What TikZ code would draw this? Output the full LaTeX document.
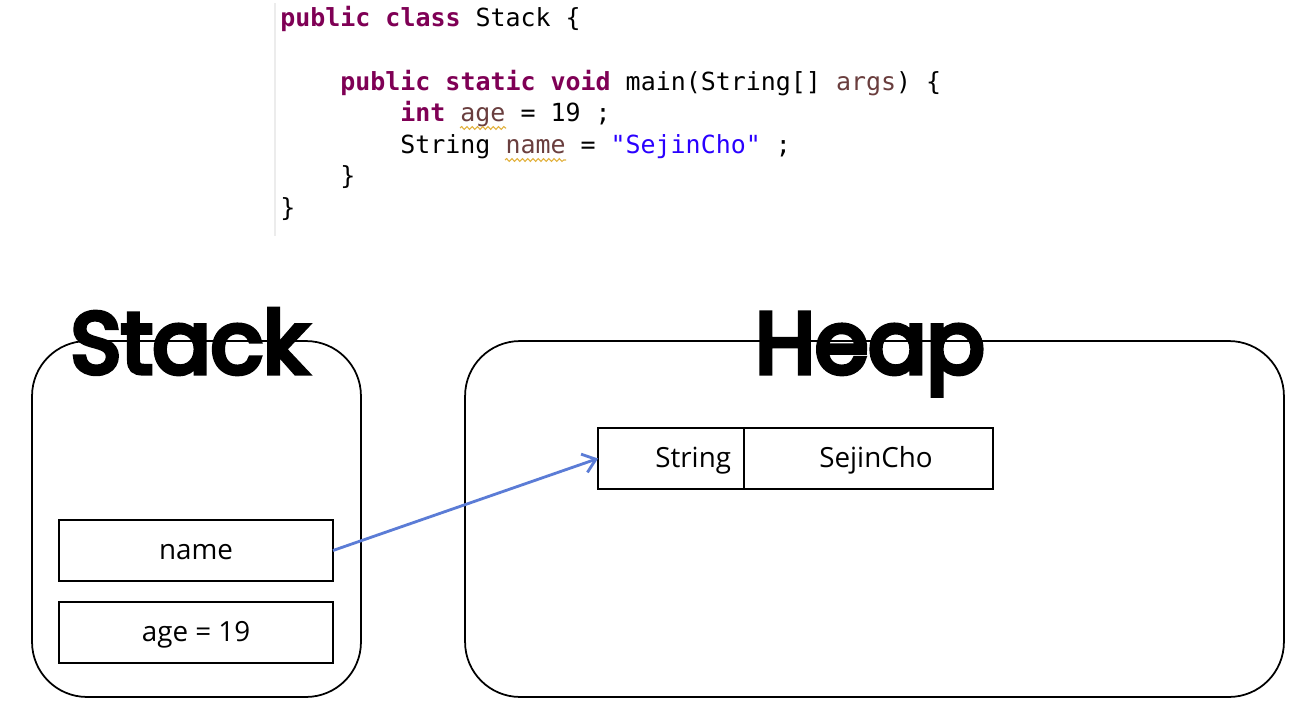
\documentclass[tikz,border=0pt]{standalone}
\usepackage{fontspec}
\setmainfont{Open Sans}
\newfontfamily\codefont{DejaVu Sans Mono}
\newfontfamily\titlefont[FakeBold=6]{Poppins}
\usetikzlibrary{arrows.meta,decorations.pathmorphing}
\definecolor{kw}{HTML}{7F0055}
\definecolor{var}{HTML}{6A3E3E}
\definecolor{str}{HTML}{2A00FF}
\definecolor{arrowblue}{HTML}{5B7CD6}
\definecolor{squig}{HTML}{E2B13C}
\newcommand{\kw}[1]{\textcolor{kw}{\bfseries #1}}
\newcommand{\vr}[1]{\textcolor{var}{#1}}
\begin{document}
\begin{tikzpicture}[x=0.02cm,y=-0.02cm,
  codeline/.style={anchor=base west,inner sep=0,font=\codefont\fontsize{14.2}{17}\selectfont},
  memarea/.style={draw,line width=1pt,rounded corners=1.1cm,minimum width=#1,minimum height=7.12cm,inner sep=0,outer sep=0},
  cell/.style={draw,line width=0.9pt,minimum height=1.22cm,inner sep=0,outer sep=0,text height=12.8pt,text depth=2.5pt,font=\fontsize{15.8}{18}\selectfont},
  title/.style={anchor=base,inner sep=0,font=\titlefont\fontsize{49}{56}\selectfont},
  ref/.style={draw=arrowblue,line width=1.6pt,-{Straight Barb[length=7pt,width=11pt,line width=1.6pt]}},
  squiggle/.style={draw=squig,line width=0.6pt,decorate,decoration={snake,amplitude=0.8pt,segment length=3pt}}
]
\useasboundingbox (0,0) rectangle (1311,720);
\fill[white] (0,0) rectangle (1311,720);
% editor margin
\draw[gray!15,line width=0.6pt] (275,3) -- (275,236);
% code
\node[codeline] (c1) at (280,27) {\kw{public} \kw{class} Stack \{};
\node[codeline] (c2) at (340,90) {\kw{public} \kw{static} \kw{void} main(String[] \vr{args}) \{};
\node[codeline] (c3) at (400,121.5) {\kw{int} \vr{age} = 19 ;};
\node[codeline] (c4) at (400,153) {String \vr{name} = \textcolor{str}{"SejinCho"} ;};
\node[codeline] (c5) at (340,184.5) {\}};
\node[codeline] (c6) at (280,216) {\}};
\draw[squiggle] (460,128) -- (506,128);
\draw[squiggle] (505,160) -- (566,160);
% memory areas
\node[memarea=6.58cm] (stackbox) at (196.5,519) {};
\node[memarea=16.38cm] (heapbox) at (874.5,519) {};
% stack cells
\node[cell,minimum width=5.48cm] (namebox) at (196,550.5) {name};
\node[cell,minimum width=5.48cm] (agebox) at (196,632.5) {age = 19};
% heap object
\node[cell,minimum width=2.92cm,text width=2.4cm,inner xsep=0.26cm,align=right] (strtype) at (671,458.5) {String};
\node[cell,minimum width=4.98cm,text width=4.98cm,align=center] (strval) at (868.5,458.5) {\hspace*{0.3cm}SejinCho};
% titles
\node[title] (stacktitle) at (189,373) {Stack};
\node[title] (heaptitle) at (870,373) {Heap};
% reference
\draw[ref] (namebox.east) -- (strtype.west);
\end{tikzpicture}
\end{document}
